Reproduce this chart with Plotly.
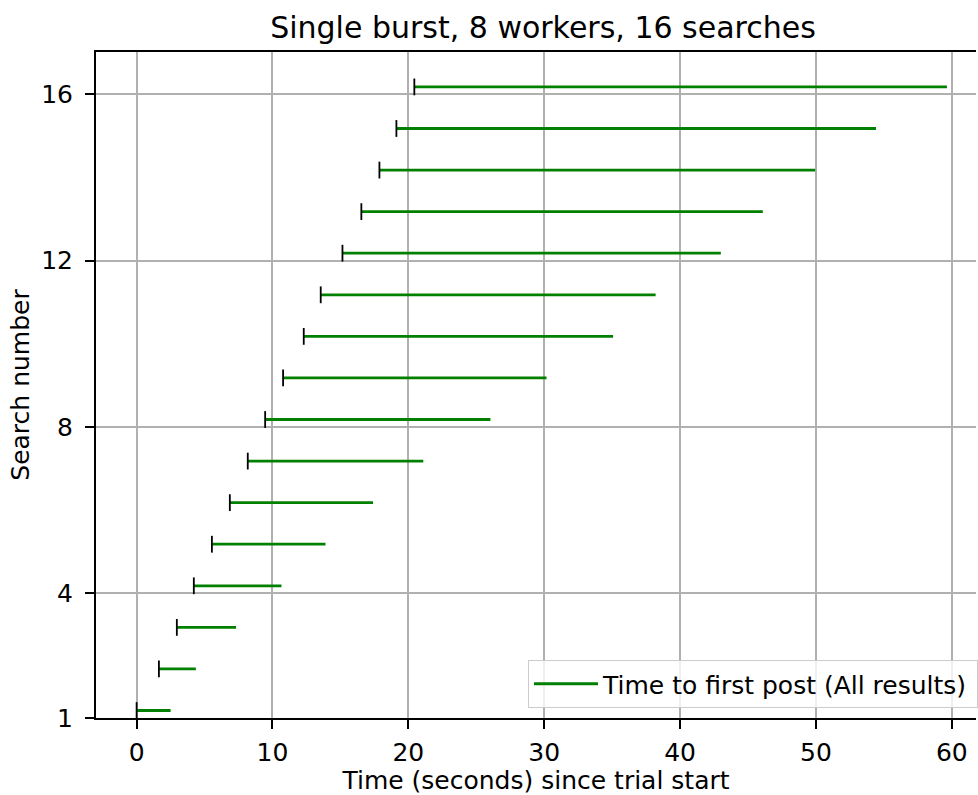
import plotly.graph_objects as go

searches = list(range(1, 17))
start_times = [0.0, 1.64, 2.96, 4.21, 5.54, 6.86, 8.18, 9.46, 10.78, 12.30,
               13.55, 15.15, 16.54, 17.87, 19.12, 20.44]
first_post_times = [2.50, 4.36, 7.32, 10.66, 13.90, 17.40, 21.10, 26.04, 30.17, 35.07,
                    38.20, 43.00, 46.09, 49.94, 54.42, 59.64]
y_ticks = [1, 4, 8, 12, 16]
x_ticks = [0, 10, 20, 30, 40, 50, 60]

y_shift = 0.18
FONT = "DejaVu Sans"
W, H = 978, 795
L, R, T, B = 96, 0, 52, 77
PW = W - L - R
PH = H - T - B

xs, ys = [], []
for s, a, b in zip(searches, start_times, first_post_times):
    xs += [a, b, None]
    ys += [s + y_shift, s + y_shift, None]

fig = go.Figure()
fig.add_trace(go.Scatter(
    x=xs, y=ys, mode="lines",
    line=dict(color="#008000", width=2.8),
    name="Time to first post (All results)",
    hoverinfo="skip",
))
fig.add_trace(go.Scatter(
    x=start_times, y=[s + y_shift for s in searches], mode="markers",
    marker=dict(symbol="line-ns", size=12, line=dict(color="black", width=1.8)),
    showlegend=False,
))

fig.update_layout(
    width=W, height=H,
    margin=dict(l=L, r=R, t=T, b=B),
    paper_bgcolor="white", plot_bgcolor="white",
    font=dict(family=FONT, size=25, color="black"),
    title=dict(text="Single burst, 8 workers, 16 searches",
               x=543 / W, xref="container", xanchor="center",
               y=1 - 27 / H, yref="container", yanchor="middle",
               font=dict(size=30, family=FONT, color="black")),
    legend=dict(x=(529 - L) / PW, y=10 / PH, xanchor="left", yanchor="bottom",
                orientation="h", entrywidth=369,
                bgcolor="rgba(255,255,255,0.8)", bordercolor="#cccccc", borderwidth=1,
                font=dict(size=25, family=FONT), itemwidth=64),
    showlegend=True,
)
fig.update_xaxes(
    range=[-2.99, 61.78], tickvals=x_ticks, ticktext=[str(v) for v in x_ticks],
    showgrid=True, gridcolor="#b0b0b0", gridwidth=2,
    showline=True, linecolor="black", linewidth=2, mirror=True,
    ticks="outside", ticklen=9, tickwidth=2, tickcolor="black",
    ticklabelstandoff=2,
    zeroline=False,
    title=dict(text="Time (seconds) since trial start", standoff=6,
               font=dict(size=25, family=FONT)),
)
fig.update_yaxes(
    range=[1, 17.02], tickvals=y_ticks, ticktext=[str(v) for v in y_ticks],
    showgrid=True, gridcolor="#b0b0b0", gridwidth=2,
    showline=True, linecolor="black", linewidth=2, mirror=False,
    ticks="outside", ticklen=9, tickwidth=2, tickcolor="black",
    ticklabelstandoff=7,
    zeroline=False,
    title=dict(text="Search number", standoff=4,
               font=dict(size=25, family=FONT)),
)

fig.write_html(
    "out.html",
    config={"displayModeBar": False},
    post_script="document.body.style.margin='0';document.body.style.overflow='hidden';",
)
